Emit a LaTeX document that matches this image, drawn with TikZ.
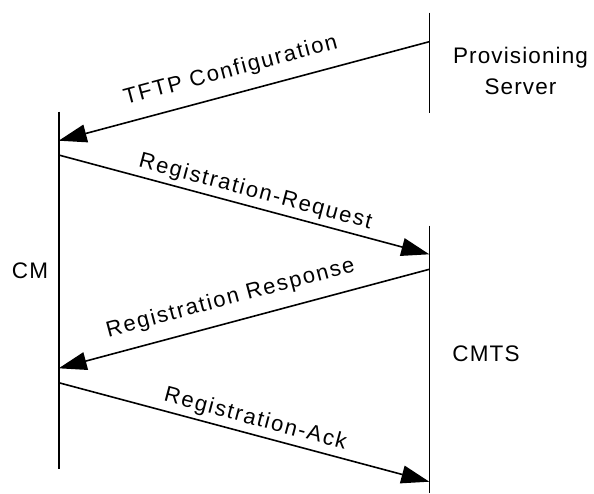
\documentclass[tikz,border=0pt]{standalone}
\usepackage{fontspec}
\setmainfont{Liberation Sans}
\newfontfamily\partyfont[LetterSpace=5]{Liberation Sans}
\newfontfamily\msgfont[LetterSpace=8]{Liberation Sans}
\usetikzlibrary{arrows.meta}

\begin{document}
\begin{tikzpicture}[x=1pt,y=-1pt,
  party/.style={font={\partyfont\fontsize{22.5}{31}\selectfont},
    align=center,inner sep=0pt},
  life/.style={line width=1.6pt},
  msg/.style={-{Triangle[length=28pt,width=18pt]},line width=1.6pt},
  lbl/.style={font={\msgfont\fontsize{22}{26}\selectfont},sloped,
    pos=0.52,inner sep=0pt}
]
\useasboundingbox (0,0) rectangle (594,493);
% lifelines
\coordinate (srvtop) at (429.3,12.7);
\coordinate (srvbot) at (429.3,112.7);
\coordinate (cmtop) at (58.7,111.7);
\coordinate (cmbot) at (58.7,469.3);
\coordinate (cmtstop) at (429.3,225.7);
\coordinate (cmtsbot) at (429.3,493);
\draw[life] (srvtop) -- (srvbot);
\draw[life] (cmtop) -- (cmbot);
\draw[life] (cmtstop) -- (cmtsbot);
% parties
\node[party] (srv) at (520.5,70.5) {Provisioning\\Server};
\node[party] (cm) at (30,270.3) {CM};
\node[party] (cmts) at (486,354.2) {CMTS};
% message ends on the lifelines
\coordinate (tftpsrc) at (429.3,41.7);
\coordinate (tftpdst) at (58.7,140.7);
\coordinate (reqsrc) at (58.7,155);
\coordinate (reqdst) at (429.3,254.3);
\coordinate (rspsrc) at (429.3,269.3);
\coordinate (rspdst) at (58.7,368.3);
\coordinate (acksrc) at (58.7,382.7);
\coordinate (ackdst) at (429.3,481.7);
% messages
\draw[msg] (tftpsrc) -- node[lbl,above=12pt] (tftp) {TFTP Configuration} (tftpdst);
\draw[msg] (reqsrc) -- node[lbl,above=4pt] (req) {Registration-Request} (reqdst);
\draw[msg] (rspsrc) -- node[lbl,above=12pt] (rsp) {Registration Response} (rspdst);
\draw[msg] (acksrc) -- node[lbl,above=4pt] (ack) {Registration-Ack} (ackdst);
\end{tikzpicture}
\end{document}
